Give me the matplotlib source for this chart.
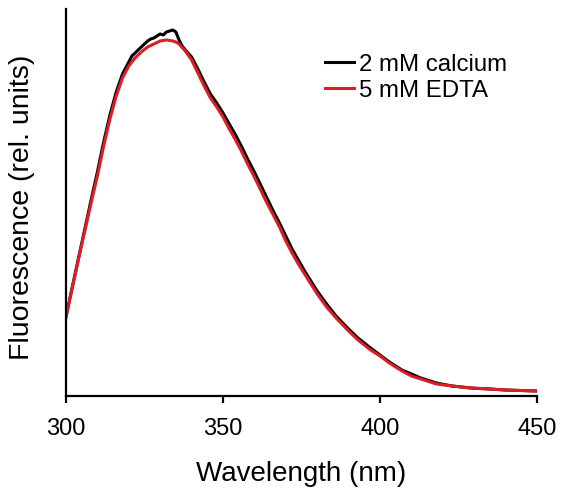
import matplotlib
matplotlib.use("Agg")
import matplotlib.pyplot as plt

plt.rcParams['font.family'] = ['Liberation Sans', 'DejaVu Sans']

wl_red = [300, 302, 304, 306, 308, 310, 312, 314, 316, 318, 320, 322, 324, 326, 328, 330, 332, 334, 335, 336,
          338, 340, 342, 344, 346, 348, 350, 352, 354, 356, 358, 360, 362, 364, 366, 368, 370, 372, 374, 376,
          378, 380, 383, 386, 390, 393, 397, 400, 403, 407, 410, 413, 418, 423, 429, 435, 440, 445, 450]
edta = [79, 108, 137, 165, 193, 220, 250, 277, 300, 318, 330, 338, 344, 349, 352, 355, 356, 355, 354, 352,
        345, 336, 323, 310, 298, 289, 279, 267, 256, 244, 231, 219, 206, 193, 181, 169, 155, 143, 132, 122,
        112, 102, 89, 78, 65, 56, 46, 40, 33, 25, 20, 17, 12, 10, 8, 7, 6, 5.5, 5]

wl_black = [300, 302, 304, 306, 308, 310, 312, 314, 316, 318, 320, 321, 322, 323, 324, 325, 326, 327, 328, 329,
            330, 331, 332, 333, 334, 335, 336, 337, 338, 340, 342, 344, 346, 348, 350, 352, 354, 356, 358, 360,
            362, 364, 366, 368, 370, 372, 374, 376, 378, 380, 383, 386, 390, 393, 397, 400, 403, 407, 410, 413,
            418, 423, 429, 435, 440, 445, 450]
calcium = [79, 109, 138, 167, 196, 224, 254, 281, 304, 322, 334, 340, 343, 346, 349, 352, 355, 357, 358, 360,
           362, 361, 364, 365, 366, 364, 356, 350, 346, 339, 327, 314, 302, 293, 283, 272, 261, 249, 236, 224,
           211, 198, 185, 173, 160, 147, 136, 125, 115, 105, 92, 80, 67, 58, 48, 41, 34, 26, 22, 18,
           13, 10, 8, 7, 6, 5.5, 5]

labels = ["2 mM calcium", "5 mM EDTA"]
xticks = [300, 350, 400, 450]

fig = plt.figure(figsize=(5.62, 4.89), dpi=100)
ax = fig.add_axes([0.1174, 0.1881, 0.8381, 0.7915])

ax.plot(wl_black, calcium, color='black', lw=2.2, label=labels[0])
ax.plot(wl_red, edta, color='#dc1e28', lw=2.2, label=labels[1])

ax.set_xlim(300, 450)
ax.set_ylim(0, 387)
ax.set_xticks(xticks)
ax.set_yticks([])
for s in ['top', 'right']:
    ax.spines[s].set_visible(False)
for s in ['left', 'bottom']:
    ax.spines[s].set_linewidth(1.6)
ax.tick_params(axis='x', direction='out', length=5, width=1.6, labelsize=17, pad=10)
ax.set_xlabel("Wavelength (nm)", fontsize=20, labelpad=15)
ax.set_ylabel("Fluorescence (rel. units)", fontsize=20.5)
ax.yaxis.set_label_coords(-0.066, 0.49)

ax.legend(loc='upper left', bbox_to_anchor=(0.55, 0.885), frameon=False, fontsize=17.3,
          handlelength=1.2, handletextpad=0.2, borderpad=0, borderaxespad=0, labelspacing=0.15)

fig.savefig("out.png", dpi=100)
